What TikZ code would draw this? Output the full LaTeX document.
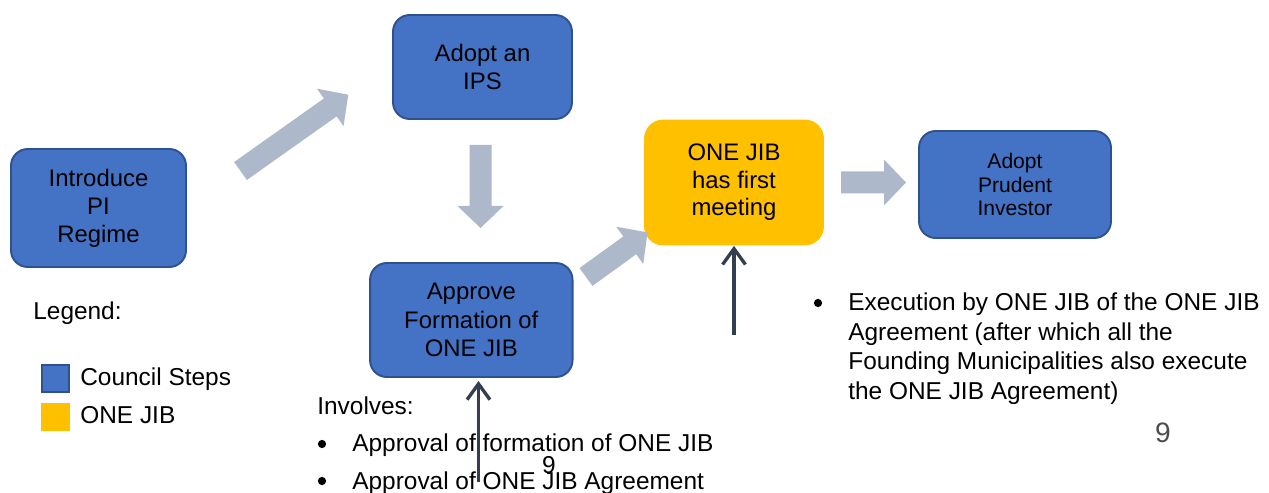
\documentclass[tikz,border=0pt]{standalone}
\usepackage{fontspec}
\setmainfont{Liberation Sans}
\usepackage{tikz}
\usetikzlibrary{
    arrows.meta,
    calc,
    positioning
}
\definecolor{councilblue}{HTML}{4472C4}
\definecolor{counciledge}{HTML}{2F528F}
\definecolor{jibgold}{HTML}{FFC000}
\definecolor{flowgrey}{HTML}{ADB9CA}
\definecolor{slate}{HTML}{333F50}

\begin{document}
\begin{tikzpicture}[x=0.02cm, y=-0.02cm,
    council/.style={draw=counciledge, line width=1.1pt, fill=councilblue, rounded corners=9.5pt,
        align=center, font=\fontsize{13.6}{16}\selectfont},
    jib/.style={fill=jibgold, rounded corners=11pt, align=center, font=\fontsize{13.6}{15.6}\selectfont},
    flow/.style={fill=flowgrey},
    pointer/.style={draw=slate, line width=1.9pt, -{Straight Barb[length=9pt,width=13pt]}},
    body/.style={font=\fontsize{13.9}{16.6}\selectfont, inner sep=0pt},
    dot/.style={circle, fill=black, minimum size=0.165cm, inner sep=0pt}]
\useasboundingbox (0,0) rectangle (1269,493);

\node[council, minimum width=3.5cm, minimum height=2.36cm] (intro) at (98.5,208) {Introduce\\PI\\Regime};
\node[council, minimum width=3.58cm, minimum height=2.08cm] (ips) at (482.5,67) {Adopt an\\IPS};
\node[council, minimum width=4.05cm, minimum height=2.28cm] (approve) at (471.3,320) {Approve\\Formation of\\ONE JIB};
\node[jib, minimum width=3.6cm, minimum height=2.52cm] (meet) at (734,182.5) {ONE JIB\\has first\\meeting};
\node[council, minimum width=3.84cm, minimum height=2.14cm, font=\fontsize{12}{13.6}\selectfont] (prudent) at (1015,184.5) {Adopt\\Prudent\\Investor};

\foreach \px/\py/\ang/\len in {240.5/171/35.3/132, 480.5/145/-90/83, 586/277/35.9/76, 841/182.5/0/65} {
    \begin{scope}[shift={(\px,\py)}, rotate=\ang]
        \fill[flow] (0,-11) -- (\len-22,-11) -- (\len-22,-23) -- (\len,0) -- (\len-22,23) -- (\len-22,11) -- (0,11) -- cycle;
    \end{scope}
}

\coordinate (jibfoot) at (734,335);
\draw[pointer] (jibfoot) -- (meet.south);
\coordinate (stemfoot) at (478.5,482);
\coordinate (stemtip) at (478.5,381);
\draw[pointer] (stemfoot) -- (stemtip);

\node[body, anchor=base west] (legend) at (33,320) {Legend:};
\node[draw=counciledge, line width=1pt, fill=councilblue, minimum size=0.54cm, inner sep=0pt] (keyblue) at (55.5,378.5) {};
\node[fill=jibgold, minimum size=0.58cm, inner sep=0pt] (keygold) at (55.5,417) {};
\node[body, anchor=base west] (keybluetxt) at (80,386) {Council Steps};
\node[body, anchor=base west] (keygoldtxt) at (80,424) {ONE JIB};

\node[body, anchor=base west] (involves) at (317,415) {Involves:};
\foreach \txt/\yb [count=\i] in {Approval of formation of ONE JIB/452, Approval of ONE JIB Agreement/489} {
    \node[dot] (dot\i) at (322,\yb-8) {};
    \node[body, anchor=base west] (item\i) at (352,\yb) {\txt};
}

\node[dot] (execdot) at (818,303) {};
\foreach \txt/\yb [count=\i] in {Execution by ONE JIB of the ONE JIB/311, Agreement (after which all the/340.5,
    Founding Municipalities also execute/370, the ONE JIB Agreement)/399.5} {
    \node[body, anchor=base west] (exec\i) at (848,\yb) {\txt};
}

\node[body, anchor=base] (pagemid) at (549,474) {9};
\node[font=\fontsize{16}{18}\selectfont, text=black!70, inner sep=0pt, anchor=base] (pageright) at (1163,442) {9};
\end{tikzpicture}
\end{document}
